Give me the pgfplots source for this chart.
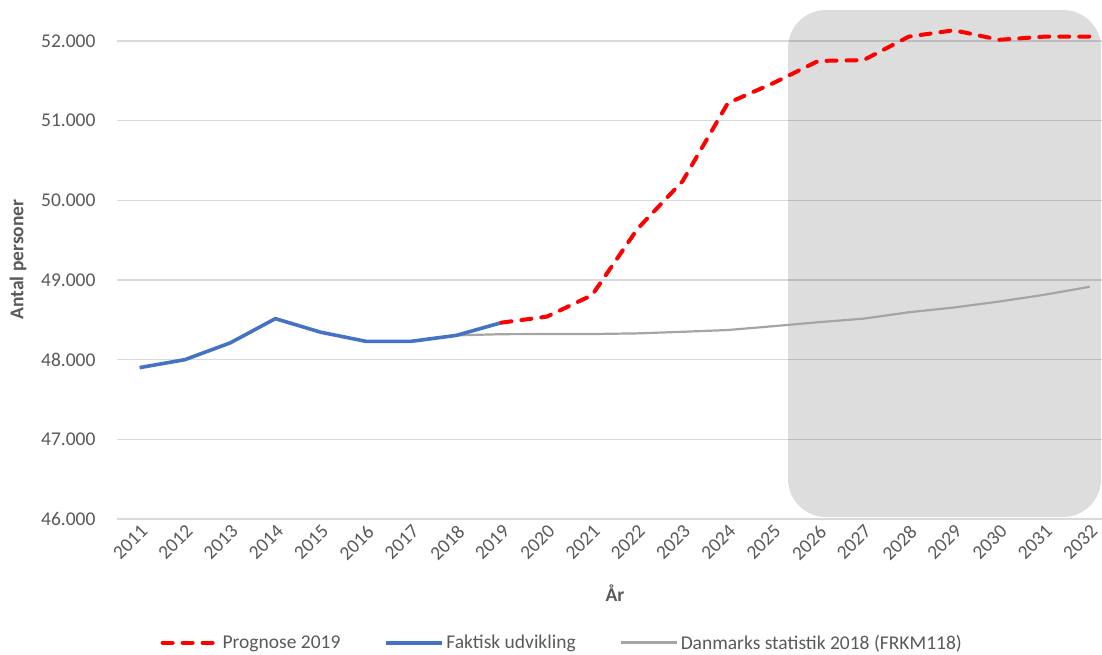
\documentclass[border=0pt]{standalone}
\usepackage{fontspec}
\setmainfont{Carlito}
\usepackage{pgfplots}
\pgfplotsset{compat=1.18}
\definecolor{txtgray}{HTML}{595959}
\definecolor{gridgray}{HTML}{D9D9D9}
\definecolor{lblue}{HTML}{4472C4}
\definecolor{lgray}{HTML}{A5A5A5}
\newcommand{\chartfont}{\fontsize{19.5}{23}\selectfont}
\begin{document}
\begin{tikzpicture}
\useasboundingbox (-117pt,-135pt) rectangle (985pt,519pt);
\begin{axis}[
  scale only axis, width=985pt, height=478pt,
  at={(0pt,0pt)}, anchor=south west,
  xmin=2010.5, xmax=2032.27, ymin=46000, ymax=52000,
  clip=false,
  axis line style={draw=none}, major tick length=0pt,
  xtick={2011,2012,...,2032}, ytick={46000,47000,...,52000},
  ymajorgrids, grid style={gridgray, line width=1.3pt},
  scaled y ticks=false,
  /pgf/number format/assume math mode=true,
  tick label style={font=\chartfont, text=txtgray},
  xticklabel style={rotate=45, anchor=north east, /pgf/number format/1000 sep={}},
  yticklabel style={/pgf/number format/fixed, /pgf/number format/precision=0, /pgf/number format/1000 sep={.}, xshift=-18pt},
  ylabel={Antal personer},
  ylabel style={font=\bfseries\chartfont, text=txtgray, at={(axis description cs:-0.1005,0.543)}, anchor=center},
  xlabel={År},
  xlabel style={font=\bfseries\chartfont, text=txtgray, at={(axis description cs:0.5056,-0.155)}, anchor=center},
  legend columns=3,
  legend style={at={(axis description cs:0.452,-0.259)}, anchor=center, draw=none, fill=none,
    font=\chartfont, text=txtgray, /tikz/every even column/.append style={column sep=42pt}},
  legend image code/.code={\draw[#1] (0pt,0pt) -- (56pt,0pt);},
]
\fill[black, opacity=0.135, rounded corners=38pt] (axis cs:2025.33,46025) rectangle (axis cs:2032.25,52389);

\addlegendimage{red, line width=4pt, dash pattern=on 10pt off 10pt, line cap=round}
\addlegendentry{Prognose 2019}
\addlegendimage{lblue, line width=4pt}
\addlegendentry{Faktisk udvikling}
\addlegendimage{lgray, line width=3pt}
\addlegendentry{Danmarks statistik 2018 (FRKM118)}

\addplot[lgray, line width=2.2pt, line join=round, forget plot] coordinates {
(2018,48305) (2019,48320) (2020,48322) (2021,48322) (2022,48330) (2023,48350)
(2024,48372) (2025,48420) (2026,48470) (2027,48515) (2028,48595) (2029,48655)
(2030,48730) (2031,48815) (2032,48915)};
\addplot[lblue, line width=3.6pt, line join=round, forget plot] coordinates {
(2011,47900) (2012,48000) (2013,48210) (2014,48515) (2015,48345) (2016,48230)
(2017,48230) (2018,48305) (2019,48465)};
\addplot[red, line width=4pt, dash pattern=on 10pt off 10pt, line cap=round, line join=round, forget plot] coordinates {
(2019,48465) (2020,48540) (2021,48810) (2022,49640) (2023,50240) (2024,51220)
(2025,51470) (2026,51750) (2027,51760) (2028,52055) (2029,52135) (2030,52015)
(2031,52055) (2032,52055)};
\end{axis}
\end{tikzpicture}
\end{document}
